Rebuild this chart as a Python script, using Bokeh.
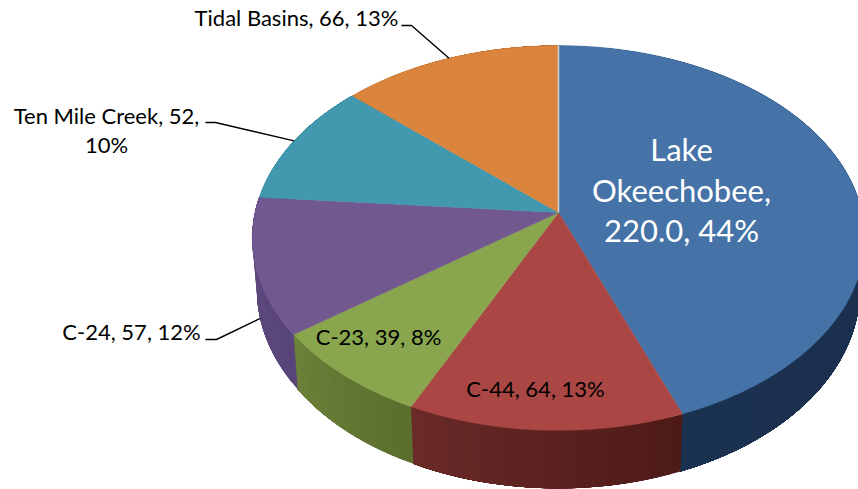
import math
from bokeh.plotting import figure
from bokeh.models import Range1d
from bokeh.core.properties import value
from bokeh.embed import file_html
from bokeh.resources import INLINE

# ---- data ----
categories = ["Lake Okeechobee", "C-44", "C-23", "C-24", "Ten Mile Creek", "Tidal Basins"]
values = [220, 64, 39, 57, 52, 66]
value_labels = ["220.0", "64", "39", "57", "52", "66"]
percents = [44, 13, 8, 12, 10, 13]

# ---- styles ----
top_colors = ["#4573a7", "#aa4643", "#89a54e", "#71588f", "#4198af", "#db843d"]
wall_left = ["#1b3150", "#6a2a28", "#6b8038", "#5f4a80", "#33798c", "#a86530"]
wall_right = ["#1a2e4a", "#4d1a17", "#5b6e2e", "#59457a", "#33798c", "#a86530"]

# ---- projection of the tilted disc ----
CX, CY = 558.0, 212.0
A, B, K = 303.5, 189.0, 0.1325
DEPTH, DEPTH_V, SHRINK = 50.0, 8.0, 0.985


def top_pt(frac):
    th = 2 * math.pi * frac
    u, v = math.sin(th), -math.cos(th)
    d = 1 - K * v
    return CX + A * u / d, CY + B * v / d


def wall_pt(frac):
    x, y = top_pt(frac)
    v = -math.cos(2 * math.pi * frac)
    return CX + (x - CX) * SHRINK, y + DEPTH + DEPTH_V * v


def mix(c1, c2, t):
    a = [int(c1[i:i + 2], 16) for i in (1, 3, 5)]
    b = [int(c2[i:i + 2], 16) for i in (1, 3, 5)]
    return "#%02x%02x%02x" % tuple(round(p + (q - p) * t) for p, q in zip(a, b))


p = figure(width=858, height=489, output_backend="svg", toolbar_location=None,
           x_range=Range1d(0, 858), y_range=Range1d(489, 0),
           min_border=0, outline_line_color=None)
p.axis.visible = False
p.grid.visible = False
p.background_fill_color = "white"

total = sum(values)
starts = []
acc = 0
for val in values:
    starts.append(acc / total)
    acc += val
ends = starts[1:] + [1.0]

# walls first: overlapping bands, later bands laid over earlier ones
for i in range(len(values)):
    span = ends[i] - starts[i]
    n = max(6, int(span * 200))
    for k in range(n):
        f0 = starts[i] + span * k / n
        m = 14
        arc = [f0 + (ends[i] - f0) * j / m for j in range(m + 1)]
        tops = [top_pt(f) for f in arc]
        bots = [wall_pt(f) for f in reversed(arc)]
        col = mix(wall_right[i], wall_left[i], k / max(1, n - 1))
        p.patch([q[0] for q in tops + bots], [q[1] for q in tops + bots],
                fill_color=col, line_color=None)

# top face
for i in range(len(values)):
    n = max(8, int((ends[i] - starts[i]) * 360))
    pts = [top_pt(starts[i] + (ends[i] - starts[i]) * k / n) for k in range(n + 1)]
    xs = [CX] + [q[0] for q in pts]
    ys = [CY] + [q[1] for q in pts]
    p.patch(xs, ys, fill_color=top_colors[i], line_color=top_colors[i], line_width=0.5)

# light seam between the first and last slice
sx, sy = top_pt(0)
p.line([CX, sx], [CY, sy], line_color="#d0d3d6", line_width=1.5)

# leader lines, anchored on the slices' mid angles
mids = [(s + e) / 2 for s, e in zip(starts, ends)]
leaders = {
    5: (top_pt(mids[5]), (411, 25), (401, 25)),
    4: (top_pt(mids[4]), (215, 122), (205, 122)),
    3: (wall_pt(mids[3]), (216, 339), (205, 339)),
}
for idx, (anchor, elbow, end) in leaders.items():
    p.line([anchor[0], elbow[0], end[0]], [anchor[1], elbow[1], end[1]],
           line_color="#000000", line_width=1.4)

# labels
labels = [f"{c}, {v}, {q}%" for c, v, q in zip(categories, value_labels, percents)]
FONT = value("Lato")
lake = ["Lake", "Okeechobee,", f"{value_labels[0]}, {percents[0]}%"]
p.text([681, 681, 681], [148, 189, 229], text=lake, text_font=FONT, text_font_size="31px",
       text_color="#ffffff", text_align="center", text_baseline="alphabetic")

ten_a, ten_b = labels[4].rsplit(" ", 1)
p.text([296, 106, 106, 131, 378, 535],
       [17, 115, 144, 331, 336, 388],
       text=[labels[5], ten_a, ten_b, labels[3], labels[2], labels[1]],
       text_font=FONT, text_font_size="22px", text_color="#000000",
       text_align="center", text_baseline="alphabetic")

open("out.html", "w").write(file_html(p, INLINE))
